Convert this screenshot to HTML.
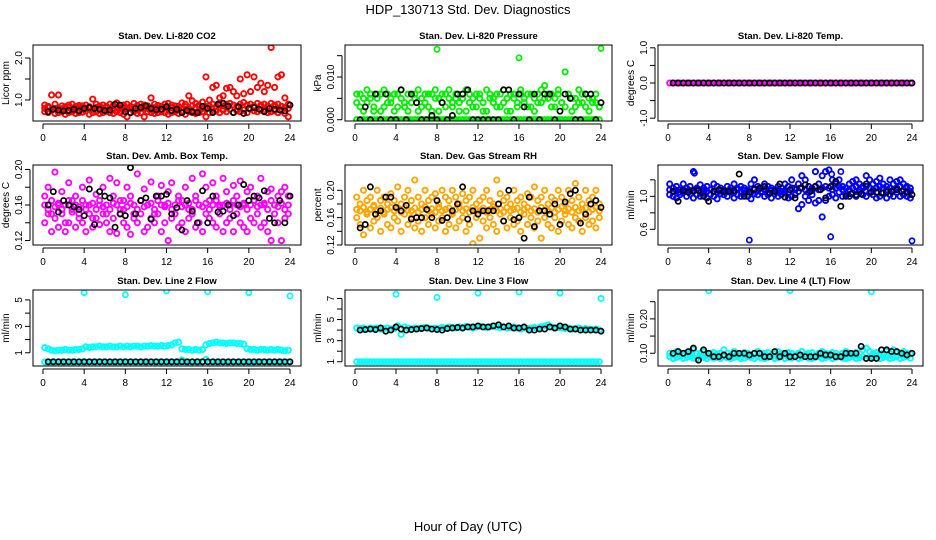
<!DOCTYPE html>
<html><head><meta charset="utf-8"><style>
body{margin:0;background:#fff}
svg{display:block;font-family:"Liberation Sans",Arial,sans-serif}
</style></head><body>
<svg id="chart" width="936" height="540" viewBox="0 0 936 540">
<text x="468" y="14" font-size="13" text-anchor="middle">HDP_130713  Std. Dev. Diagnostics</text>
<text x="468" y="531" font-size="13" text-anchor="middle">Hour of Day (UTC)</text>
</svg>
<script>
const xTicks=[0,4,8,12,16,20,24];
const titles=["Stan. Dev. Li-820 CO2","Stan. Dev. Li-820 Pressure","Stan. Dev. Li-820 Temp.","Stan. Dev. Amb. Box Temp.","Stan. Dev. Gas Stream RH","Stan. Dev. Sample Flow","Stan. Dev. Line 2 Flow","Stan. Dev. Line 3 Flow","Stan. Dev. Line 4 (LT) Flow"];
const yTitles=["Licor ppm","kPa","degrees C","degrees C","percent","ml/min","ml/min","ml/min","ml/min"];
const colors=["#ff0000","#00ee00","#ff00ff","#ff00ff","#ffa500","#0000ff","#00ffff","#00ffff","#00ffff"];
const yTickVals=[[1.0,1.5,2.0],[0,0.005,0.010,0.015],[-1,-0.5,0,0.5,1],[0.12,0.14,0.16,0.18,0.20],[0.12,0.14,0.16,0.18,0.20],[0.6,0.8,1.0,1.2],[1,2,3,4,5],[1,2,3,4,5,6,7],[0.10,0.15,0.20,0.25]];
const yTickLabels=[["1.0","","2.0"],["0.000","","0.010",""],["-1.0","","0.0","","1.0"],["0.12","","0.16","","0.20"],["0.12","","0.16","","0.20"],["0.6","","1.0",""],["1","","3","","5"],["1","","3","","5","","7"],["0.10","","0.20",""]];
const yDomain=[[0.5,2.31],[-0.0003,0.0175],[-1.08,1.08],[0.115,0.205],[0.12,0.237],[0.41,1.38],[0.0,5.75],[0.6,7.8],[0.063,0.284]];

const co2A=[0.88,0.85,1.12,0.9,1.12,0.86,0.84,0.88,0.9,0.85,0.87,0.86,0.88,0.84,1.02,0.9,0.86,0.88,0.85,0.9,0.87,0.93,0.86,0.88,0.9,0.85,0.92,0.87,0.9,0.88,0.86,1.05,0.9,0.87,0.85,0.9,0.92,0.88,0.86,0.85,0.93,0.9,1.1,0.98,0.92,0.88,0.95,1.55,1.0,1.3,1.35,1.05,1.1,1.28,1.3,1.2,1.1,1.5,1.15,1.6,1.2,1.55,1.3,1.4,1.2,1.35,2.25,1.3,1.55,1.6,1.05,0.9];
const co2B=[0.72,0.7,0.75,0.68,0.7,0.72,0.66,0.7,0.72,0.68,0.7,0.71,0.74,0.66,0.7,0.72,0.68,0.7,0.73,0.7,0.68,0.72,0.7,0.66,0.6,0.7,0.72,0.68,0.7,0.6,0.72,0.7,0.68,0.7,0.72,0.7,0.66,0.7,0.72,0.68,0.7,0.66,0.72,0.7,0.68,0.7,0.72,0.6,0.7,0.72,0.74,0.7,0.76,0.72,0.78,0.7,0.74,0.72,0.76,0.7,0.78,0.74,0.72,0.76,0.74,0.7,0.72,0.74,0.7,0.76,0.68,0.6];
const co2C=[0.8,0.82,0.78,0.8,0.81,0.79,0.8,0.83,0.78,0.8,0.82,0.79,0.8,0.81,0.78,0.82,0.8,0.79,0.81,0.8,0.78,0.82,0.8,0.81,0.79,0.8,0.82,0.78,0.8,0.81,0.8,0.79,0.82,0.8,0.78,0.81,0.8,0.82,0.79,0.8,0.81,0.84,0.8,0.86,0.82,0.85,0.8,0.84,0.86,0.9,0.84,0.88,0.86,0.9,0.92,0.88,0.85,0.9,0.94,0.88,0.9,0.86,0.92,0.88,0.9,0.86,0.92,0.88,0.9,0.85,0.82,0.8];
const co2K=[0.72,0.78,0.76,0.74,0.75,0.78,0.74,0.8,0.82,0.8,0.78,0.75,0.76,0.9,0.88,0.72,0.7,0.8,0.82,0.86,0.8,0.77,0.78,0.84,0.75,0.78,0.7,0.75,0.72,0.7,0.85,0.8,0.7,0.9,0.92,0.85,0.7,0.84,0.68,0.8,0.82,0.78,0.72,0.8,0.78,0.76,0.74,0.88];
const presA=[0,0,0,0,0,0,0,0,0,0,0,0,0,0,0,0,0,0,0,0,0,0,0,0,0,0,0,0,0,0,0,0,0,0,0,0,0,0,0,0,0,0,0,0,0,0,0,0,0,0,0,0,0,0,0,0,0,0,0,0,0,0,0,0,0,0,0,0,0,0,0,0];
const presB=[0.004,0.006,0.002,0.007,0.005,0.003,0.006,0.002,0.007,0.004,0.005,0.006,0.003,0.007,0.004,0.002,0.006,0.005,0.007,0.003,0.004,0.006,0.002,0.007,0.005,0.006,0.003,0.007,0.004,0.005,0.002,0.006,0.007,0.004,0.005,0.003,0.006,0.002,0.007,0.005,0.004,0.006,0.003,0.007,0.005,0.002,0.006,0.004,0.007,0.005,0.003,0.006,0.002,0.004,0.007,0.008,0.005,0.006,0.003,0.007,0.004,0.0112,0.006,0.005,0.003,0.007,0.004,0.006,0.002,0.005,0.004,0.003];
const presC=[0.006,0.003,0.005,0.004,0.006,0.002,0.005,0.006,0.003,0.006,0.004,0.002,0.006,0.005,0.003,0.006,0.004,0.006,0.002,0.005,0.006,0.003,0.006,0.005,0.002,0.004,0.006,0.005,0.003,0.006,0.004,0.005,0.002,0.006,0.003,0.006,0.005,0.004,0.002,0.006,0.005,0.003,0.006,0.004,0.002,0.006,0.005,0.003,0.006,0.004,0.006,0.003,0.005,0.006,0.004,0.005,0.006,0.003,0.005,0.006,0.004,0.003,0.006,0.002,0.005,0.004,0.006,0.003,0.005,0.004,0.006,0.003];
const presK=[0,0.003,0,0.006,0,0.006,0,0,0.007,0,0.006,0.004,0,0,0.001,0,0.004,0,0.001,0.006,0.006,0.007,0,0,0,0,0,0,0.007,0.007,0,0.006,0.003,0,0.006,0,0.006,0.006,0,0.002,0.006,0.005,0,0,0.006,0.006,0,0.004];
const tempA=[0,0,0,0,0,0,0,0,0,0,0,0,0,0,0,0,0,0,0,0,0,0,0,0,0,0,0,0,0,0,0,0,0,0,0,0,0,0,0,0,0,0,0,0,0,0,0,0,0,0,0,0,0,0,0,0,0,0,0,0,0,0,0,0,0,0,0,0,0,0,0,0];
const tempK=[0,0,0,0,0,0,0,0,0,0,0,0,0,0,0,0,0,0,0,0,0,0,0,0,0,0,0,0,0,0,0,0,0,0,0,0,0,0,0,0,0,0,0,0,0,0,0,0];
const ambA=[0.17,0.18,0.15,0.197,0.16,0.175,0.14,0.185,0.165,0.17,0.15,0.18,0.16,0.188,0.145,0.172,0.16,0.18,0.15,0.19,0.17,0.185,0.155,0.165,0.18,0.17,0.15,0.195,0.165,0.178,0.16,0.186,0.15,0.17,0.182,0.16,0.175,0.185,0.15,0.17,0.165,0.18,0.155,0.19,0.17,0.16,0.195,0.18,0.165,0.185,0.17,0.16,0.19,0.175,0.16,0.182,0.17,0.187,0.16,0.175,0.18,0.165,0.17,0.19,0.16,0.175,0.178,0.16,0.17,0.175,0.18,0.17];
const ambB=[0.14,0.15,0.13,0.145,0.135,0.15,0.13,0.14,0.155,0.135,0.145,0.14,0.13,0.15,0.135,0.145,0.138,0.15,0.14,0.13,0.145,0.128,0.15,0.14,0.135,0.127,0.145,0.14,0.15,0.13,0.135,0.145,0.14,0.15,0.13,0.14,0.12,0.145,0.15,0.135,0.14,0.13,0.145,0.15,0.135,0.14,0.13,0.15,0.145,0.14,0.135,0.15,0.13,0.14,0.145,0.13,0.15,0.14,0.135,0.13,0.145,0.14,0.15,0.135,0.14,0.13,0.12,0.15,0.14,0.12,0.145,0.15];
const ambC=[0.16,0.155,0.165,0.158,0.162,0.155,0.16,0.165,0.152,0.16,0.158,0.165,0.155,0.16,0.162,0.155,0.165,0.158,0.16,0.155,0.162,0.16,0.165,0.155,0.158,0.162,0.16,0.155,0.165,0.158,0.16,0.162,0.155,0.165,0.16,0.158,0.162,0.155,0.16,0.165,0.158,0.16,0.162,0.155,0.165,0.16,0.158,0.162,0.155,0.16,0.165,0.158,0.16,0.162,0.155,0.165,0.16,0.158,0.162,0.155,0.16,0.165,0.158,0.16,0.162,0.155,0.165,0.16,0.158,0.162,0.155,0.16];
const ambK=[0.16,0.175,0.152,0.165,0.16,0.158,0.155,0.148,0.178,0.138,0.175,0.17,0.168,0.135,0.15,0.148,0.202,0.15,0.165,0.168,0.144,0.17,0.17,0.172,0.15,0.157,0.132,0.165,0.153,0.14,0.176,0.14,0.17,0.152,0.153,0.16,0.148,0.16,0.183,0.165,0.17,0.168,0.176,0.145,0.14,0.165,0.14,0.17];
const rhA=[0.19,0.18,0.2,0.185,0.19,0.178,0.2,0.185,0.19,0.18,0.195,0.185,0.205,0.18,0.19,0.2,0.185,0.215,0.19,0.18,0.2,0.185,0.19,0.195,0.18,0.2,0.19,0.185,0.2,0.19,0.18,0.195,0.185,0.19,0.2,0.18,0.185,0.19,0.2,0.185,0.18,0.215,0.195,0.185,0.19,0.18,0.2,0.185,0.19,0.18,0.195,0.19,0.205,0.185,0.19,0.2,0.18,0.19,0.185,0.2,0.19,0.18,0.2,0.185,0.21,0.19,0.18,0.2,0.185,0.19,0.2,0.18];
const rhB=[0.16,0.15,0.135,0.165,0.145,0.155,0.16,0.14,0.165,0.15,0.145,0.16,0.155,0.14,0.165,0.15,0.16,0.145,0.155,0.14,0.16,0.15,0.165,0.145,0.155,0.16,0.14,0.15,0.165,0.145,0.155,0.16,0.14,0.15,0.122,0.16,0.13,0.155,0.145,0.16,0.15,0.14,0.165,0.155,0.145,0.16,0.15,0.155,0.14,0.165,0.15,0.16,0.145,0.155,0.13,0.16,0.15,0.145,0.16,0.14,0.155,0.165,0.15,0.145,0.16,0.155,0.14,0.16,0.15,0.155,0.145,0.16];
const rhC=[0.172,0.17,0.175,0.168,0.172,0.176,0.17,0.174,0.168,0.172,0.175,0.17,0.173,0.168,0.175,0.171,0.17,0.174,0.168,0.172,0.176,0.17,0.173,0.168,0.175,0.17,0.172,0.174,0.168,0.172,0.175,0.17,0.173,0.168,0.175,0.171,0.17,0.174,0.168,0.172,0.176,0.17,0.173,0.168,0.175,0.17,0.172,0.174,0.168,0.172,0.175,0.17,0.173,0.168,0.175,0.171,0.17,0.174,0.168,0.172,0.176,0.17,0.173,0.168,0.175,0.17,0.172,0.174,0.168,0.172,0.175,0.17];
const rhK=[0.145,0.15,0.205,0.165,0.17,0.19,0.19,0.175,0.17,0.178,0.158,0.16,0.16,0.172,0.16,0.185,0.156,0.16,0.17,0.18,0.205,0.158,0.17,0.165,0.17,0.17,0.17,0.18,0.155,0.2,0.157,0.16,0.13,0.19,0.147,0.17,0.17,0.165,0.18,0.15,0.183,0.195,0.2,0.152,0.165,0.18,0.185,0.175];
const flowA=[1.15,1.1,1.12,1.08,1.15,1.1,1.12,1.3,1.1,1.14,1.1,1.12,1.08,1.15,1.12,1.1,1.08,1.12,1.1,1.15,1.1,1.12,1.1,1.08,1.15,1.2,1.12,1.1,1.15,1.12,1.1,1.08,1.12,1.1,1.15,1.12,1.2,1.1,1.15,1.25,1.2,1.12,1.1,1.3,1.15,1.25,1.3,1.32,1.2,1.15,1.2,1.12,1.1,1.15,1.18,1.2,1.15,1.12,1.25,1.2,1.15,1.18,1.22,1.15,1.12,1.2,1.15,1.18,1.2,1.15,1.12,1.1];
const flowB=[1.02,1.0,0.98,1.02,1.05,1.0,1.03,0.98,1.02,1.0,1.05,0.98,1.02,1.0,0.97,1.03,1.02,1.0,1.05,0.98,1.02,1.0,1.04,1.0,0.97,1.03,1.02,1.05,1.0,1.02,0.98,1.03,1.0,1.02,1.05,0.98,1.0,1.02,0.85,0.9,1.0,0.95,1.02,0.92,0.95,0.75,0.95,1.0,1.02,0.98,1.05,1.0,1.02,1.0,1.04,1.0,1.05,1.02,1.0,1.04,1.02,0.98,1.0,1.04,0.98,1.02,1.0,1.05,1.0,1.02,1.0,0.98];
const flowC=[1.08,1.06,1.07,1.05,1.08,1.06,1.07,1.06,1.08,1.05,1.07,1.06,1.08,1.06,1.05,1.07,1.08,1.06,1.07,1.05,1.08,1.06,1.07,1.06,1.05,1.08,1.07,1.06,1.08,1.05,1.07,1.06,1.08,1.06,1.07,1.05,1.1,1.08,1.06,1.1,1.08,1.05,1.07,1.12,1.08,1.1,1.12,1.1,1.08,1.1,1.12,1.08,1.1,1.08,1.1,1.12,1.08,1.1,1.12,1.1,1.08,1.1,1.12,1.1,1.08,1.1,1.08,1.1,1.12,1.08,1.1,1.06];
const flowK=[1.06,0.94,1.07,1.05,1.07,1.07,1.0,0.94,1.06,1.08,1.06,1.06,1.07,1.27,1.0,1.05,1.09,1.1,1.12,1.04,1.06,1.15,0.99,1.08,0.98,1.1,1.14,1.06,1.12,1.08,0.98,1.12,1.18,0.88,1.0,1.03,1.02,1.03,1.15,1.05,1.05,1.04,1.05,1.06,1.08,1.06,1.05,1.02];
const flowOutX=[2.6,8,16,16.1,17,24];
const flowOutY=[1.28,0.47,0.51,1.27,1.3,0.46];
const l2A=[1.4,1.3,1.2,1.15,1.2,1.2,1.25,1.2,1.2,1.25,1.25,1.3,1.45,1.4,1.45,1.45,1.5,1.45,1.45,1.5,1.45,1.45,1.5,1.45,1.5,1.45,1.5,1.5,1.45,1.5,1.5,1.55,1.5,1.5,1.55,1.5,1.55,1.6,1.75,1.8,1.3,1.25,1.25,1.2,1.25,1.2,1.25,1.6,1.7,1.75,1.8,1.75,1.75,1.7,1.75,1.75,1.7,1.7,1.65,1.3,1.25,1.25,1.2,1.25,1.25,1.2,1.25,1.2,1.25,1.2,1.15,1.2];
const l2B=[0.3,0.3,0.3,0.3,0.3,0.3,0.3,0.3,0.3,0.3,0.3,0.3,0.3,0.3,0.3,0.3,0.3,0.3,0.3,0.3,0.3,0.3,0.3,0.3,0.3,0.3,0.3,0.3,0.3,0.3,0.3,0.3,0.3,0.3,0.3,0.3,0.3,0.3,0.3,0.3,0.45,0.3,0.3,0.3,0.3,0.3,0.3,0.5,0.3,0.3,0.3,0.3,0.3,0.3,0.3,0.3,0.3,0.3,0.3,0.3,0.3,0.3,0.3,0.3,0.3,0.3,0.3,0.3,0.3,0.3,0.3,0.3];
const l2K=[0.32,0.32,0.32,0.32,0.32,0.32,0.32,0.32,0.32,0.32,0.32,0.32,0.32,0.32,0.32,0.32,0.32,0.32,0.32,0.32,0.32,0.32,0.32,0.32,0.32,0.32,0.32,0.32,0.32,0.32,0.32,0.32,0.32,0.32,0.32,0.32,0.32,0.32,0.32,0.32,0.32,0.32,0.32,0.32,0.32,0.32,0.32,0.32];
const l2OutX=[4,8,12,16,20,24];
const l2OutY=[5.55,5.4,5.68,5.62,5.55,5.3];
const l3A=[4.2,4.15,4.2,4.1,4.2,4.15,4.2,4.1,4.15,4.2,4.1,4.15,4.4,3.6,4.3,4.2,4.1,4.2,4.15,4.2,4.25,4.2,4.1,4.2,4.15,4.25,4.2,4.3,4.25,4.2,4.3,4.25,4.35,4.3,4.2,4.3,4.35,4.3,4.25,4.3,4.4,4.3,4.25,4.3,4.2,4.25,4.3,4.2,4.1,4.2,4.15,4.2,4.25,4.2,4.3,4.4,4.5,4.3,4.2,4.25,4.2,4.15,4.2,4.1,4.15,4.2,4.1,4.15,4.1,4.05,4.1,4.0];
const l3B=[1,1,1,1,1,1,1,1,1,1,1,1,1,1,1,1,1,1,1,1,1,1,1,1,1,1,1,1,1,1,1,1,1,1,1,1,1,1,1,1,1,1,1,1,1,1,1,1,1,1,1,1,1,1,1,1,1,1,1,1,1,1,1,1,1,1,1,1,1,1,1,1];
const l3K=[4.0,4.05,4.1,4.05,4.2,3.9,4.0,4.3,4.1,4.0,4.05,4.1,4.15,4.2,4.1,4.05,4.0,4.15,4.2,4.25,4.2,4.3,4.3,4.4,4.3,4.3,4.4,4.5,4.3,4.4,4.2,4.2,4.3,4.0,4.0,4.1,4.1,4.3,4.2,4.4,4.3,4.1,4.1,4.0,4.0,4.0,4.0,3.9];
const l3OutX=[4,8,12,16,20,24];
const l3OutY=[7.4,7.1,7.5,7.6,7.5,7.0];
const l4A=[0.1,0.095,0.105,0.1,0.098,0.102,0.1,0.11,0.098,0.1,0.105,0.095,0.1,0.102,0.098,0.1,0.11,0.1,0.095,0.105,0.1,0.098,0.102,0.1,0.095,0.1,0.105,0.098,0.1,0.102,0.095,0.1,0.105,0.1,0.098,0.102,0.1,0.095,0.1,0.105,0.098,0.1,0.102,0.095,0.1,0.105,0.1,0.098,0.102,0.1,0.095,0.1,0.105,0.1,0.098,0.102,0.1,0.11,0.115,0.105,0.1,0.102,0.098,0.1,0.105,0.1,0.11,0.102,0.1,0.105,0.1,0.098];
const l4B=[0.09,0.085,0.088,0.09,0.085,0.088,0.09,0.086,0.085,0.09,0.088,0.085,0.09,0.086,0.088,0.085,0.09,0.087,0.085,0.088,0.09,0.085,0.086,0.09,0.088,0.085,0.09,0.086,0.085,0.088,0.09,0.085,0.087,0.09,0.085,0.088,0.086,0.09,0.085,0.088,0.09,0.086,0.085,0.088,0.09,0.085,0.087,0.09,0.085,0.088,0.09,0.086,0.085,0.088,0.09,0.085,0.087,0.09,0.085,0.088,0.09,0.086,0.085,0.088,0.09,0.085,0.087,0.09,0.085,0.088,0.09,0.086];
const l4K=[0.1,0.105,0.1,0.105,0.115,0.08,0.11,0.1,0.09,0.09,0.095,0.09,0.1,0.1,0.1,0.095,0.1,0.1,0.09,0.09,0.105,0.09,0.1,0.09,0.09,0.095,0.09,0.09,0.09,0.1,0.095,0.095,0.09,0.09,0.1,0.1,0.1,0.12,0.085,0.085,0.085,0.11,0.11,0.105,0.105,0.1,0.095,0.1];
const l4OutX=[4,12,20];
const l4OutY=[0.282,0.282,0.279];

const colSeries=[[co2A,co2B,co2C],[presA,presB,presC],[tempA],[ambA,ambB,ambC],[rhA,rhB,rhC],[flowA,flowB,flowC],[l2A,l2B],[l3A,l3B],[l4A,l4B]];
const blackSeries=[co2K,presK,tempK,ambK,rhK,flowK,l2K,l3K,l4K];
const outX=[[],[8,16,24],[],[],[],flowOutX,l2OutX,l3OutX,l4OutX];
const outY=[[],[0.0165,0.0145,0.0167],[],[],[],flowOutY,l2OutY,l3OutY,l4OutY];

const NS="http://www.w3.org/2000/svg";
const svg=document.getElementById('chart');
function mk(tag,attrs,parent){const e=document.createElementNS(NS,tag);for(const k in attrs)e.setAttribute(k,attrs[k]);(parent||svg).appendChild(e);return e;}
const colBox=[[33,301],[345,612],[658,923]];
const rowBox=[[45,121],[165,245],[290,366]];
for(let p=0;p<9;p++){
  const c=p%3,r=Math.floor(p/3);
  const L=colBox[c][0],R=colBox[c][1],T=rowBox[r][0],B=rowBox[r][1];
  const g=mk('g',{});
  
  
  const xs=v=>L+10+(R-L-21)*v/24;
  const [d0,d1]=yDomain[p];
  const ys=v=>B-(v-d0)/(d1-d0)*(B-T);
  const t=mk('text',{x:(L+R)/2,y:T-6,'font-size':9.5,'font-weight':'bold','text-anchor':'middle'},g);
  t.textContent=titles[p];
  
  
  const ptsG=mk('g',{},g);
  
  
  const clip='clip'+p;
  const cp=mk('clipPath',{id:clip},g);mk('rect',{x:L,y:T,width:R-L,height:B-T},cp);
  ptsG.setAttribute('clip-path','url(#'+clip+')');
  colSeries[p].forEach(arr=>{
    arr.forEach((v,i)=>{
      const e=mk('circle',{cx:xs((i+0.5)*24/arr.length),cy:ys(v),r:2.6,fill:'none',stroke:colors[p],'stroke-width':1.9},ptsG);
      
      
    });
  });
  outX[p].forEach((xv,i)=>{
    const e=mk('circle',{cx:xs(xv),cy:ys(outY[p][i]),r:2.6,fill:'none',stroke:colors[p],'stroke-width':1.7},ptsG);
    
    
  });
  const kb=blackSeries[p];
  kb.forEach((v,i)=>{
    const e=mk('circle',{cx:xs((i+1)*24/kb.length),cy:ys(v),r:2.6,fill:'none',stroke:'#000','stroke-width':1.7},ptsG);
    
    
  });
  const bx=mk('rect',{x:L,y:T,width:R-L,height:B-T,fill:'none',stroke:'#000','stroke-width':1},g);
  
  
  mk('line',{x1:xs(0),x2:xs(24),y1:B+3,y2:B+3,stroke:'#000'},g);
  xTicks.forEach(v=>{
    mk('line',{x1:xs(v),x2:xs(v),y1:B+3,y2:B+8,stroke:'#000'},g);
    const tl=mk('text',{x:xs(v),y:B+20,'font-size':10,'text-anchor':'middle'},g);
    tl.textContent=v;
    
    
  });
  const yv=yTickVals[p];
  mk('line',{x1:L-3,x2:L-3,y1:ys(yv[0]),y2:ys(yv[yv.length-1]),stroke:'#000'},g);
  yv.forEach((v,i)=>{
    mk('line',{x1:L-8,x2:L-3,y1:ys(v),y2:ys(v),stroke:'#000'},g);
    const lab=yTickLabels[p][i];
    if(lab){
      const tl=mk('text',{x:0,y:0,'font-size':10,'text-anchor':'middle',transform:`translate(${L-11},${ys(v)}) rotate(-90)`},g);
      tl.textContent=lab;
      
      
    }
  });
  const yt=mk('text',{x:0,y:0,'font-size':10,'text-anchor':'middle',transform:`translate(${L-24},${(T+B)/2}) rotate(-90)`},g);
  yt.textContent=yTitles[p];
  
  
}
</script>
</body></html>
